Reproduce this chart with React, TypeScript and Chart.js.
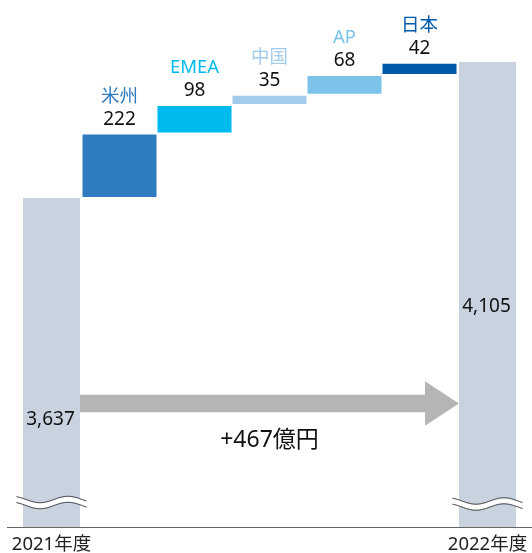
import React, { useEffect, useRef } from 'react';
import { Chart, registerables } from 'chart.js';

Chart.register(...registerables);

// ---- data ----
const categories = ['2021年度', '米州', 'EMEA', '中国', 'AP', '日本', '2022年度'];
const regionNames = ['米州', 'EMEA', '中国', 'AP', '日本'];
const regionIncreases = [222, 98, 35, 68, 42];
const startTotal = 3637;
const endTotal = 4105;
const totalChangeLabel = '+467億円';
const yAxisMin = 2505;
const yAxisMax = 4318;

// ---- styles ----
const regionColors = ['#2e7bc0', '#00b9ef', '#a3cbeb', '#7bc3e9', '#005aab'];
const totalColor = '#c8d3df';
const arrowColor = '#b4b5b5';
const textColor = '#111111';
const FONT = '"Noto Sans", "Noto Sans CJK JP", sans-serif';

const floatingData: number[][] = (() => {
  const out: number[][] = [[yAxisMin, startTotal]];
  let running = startTotal;
  regionIncreases.forEach((v) => {
    out.push([running, running + v]);
    running += v;
  });
  out.push([yAxisMin, endTotal]);
  return out;
})();

const barColors = [totalColor, ...regionColors, totalColor];
const totalLeftBorder = { left: 16, right: 2, top: 0, bottom: 0 };
const totalRightBorder = { left: 2, right: 16, top: 0, bottom: 0 };
const regionBorder = { left: 0.5, right: 0.5, top: 1, bottom: 1 };
const borderWidths = [totalLeftBorder, regionBorder, regionBorder, regionBorder, regionBorder, regionBorder, totalRightBorder];
const borderColors = ['rgba(255,255,255,0)', '#ffffff', '#ffffff', '#ffffff', '#ffffff', '#ffffff', 'rgba(255,255,255,0)'];

const fmt = (v: number) => v.toLocaleString('en-US');

function visibleCenter(bar: any, i: number) {
  const b = borderWidths[i];
  return bar.x + (b.left - b.right) / 2;
}
function visibleHalfWidth(bar: any, i: number) {
  const b = borderWidths[i];
  return (bar.width - b.left - b.right) / 2;
}

function drawBreak(ctx: CanvasRenderingContext2D, cx: number, yc: number) {
  const x0 = cx - 35;
  const x1 = cx + 35;
  const A = 3.2;
  const lambda = 56;
  const half = 3;
  const yAt = (x: number) => yc - A * Math.cos((2 * Math.PI * (x - (cx + 16.5))) / lambda);
  ctx.save();
  ctx.beginPath();
  for (let x = x0; x <= x1; x += 1) {
    const y = yAt(x) - half;
    if (x === x0) ctx.moveTo(x, y);
    else ctx.lineTo(x, y);
  }
  for (let x = x1; x >= x0; x -= 1) ctx.lineTo(x, yAt(x) + half);
  ctx.closePath();
  ctx.fillStyle = '#ffffff';
  ctx.fill();
  ctx.strokeStyle = '#2a2a2a';
  ctx.lineWidth = 1;
  [-half, half].forEach((off) => {
    ctx.beginPath();
    for (let x = x0; x <= x1; x += 1) {
      const y = yAt(x) + off;
      if (x === x0) ctx.moveTo(x, y);
      else ctx.lineTo(x, y);
    }
    ctx.stroke();
  });
  ctx.restore();
}

const annotationsPlugin = {
  id: 'waterfallAnnotations',
  afterDatasetsDraw(chart: any) {
    const ctx: CanvasRenderingContext2D = chart.ctx;
    const meta = chart.getDatasetMeta(0);
    const bars = meta.data;
    const area = chart.chartArea;
    const last = bars.length - 1;
    ctx.save();
    ctx.textAlign = 'center';
    ctx.textBaseline = 'middle';

    // region labels
    regionNames.forEach((name, k) => {
      const i = k + 1;
      const bar = bars[i];
      const cx = visibleCenter(bar, i);
      ctx.font = `18.5px ${FONT}`;
      ctx.fillStyle = regionColors[k];
      ctx.fillText(name, cx, bar.y - 37);
      ctx.font = `19px ${FONT}`;
      ctx.fillStyle = textColor;
      ctx.fillText(fmt(regionIncreases[k]), cx, bar.y - 14);
    });

    // totals inside bars
    const c0 = visibleCenter(bars[0], 0);
    const c6 = visibleCenter(bars[last], last);
    ctx.font = `19px ${FONT}`;
    ctx.fillStyle = textColor;
    ctx.fillText(fmt(startTotal), c0 - 1, bars[0].base - 107);
    ctx.fillText(fmt(endTotal), c6 - 1, bars[last].base - 220);

    // breaks
    drawBreak(ctx, c0, area.bottom - 24.5);
    drawBreak(ctx, c6, area.bottom - 23);

    // arrow
    const ax0 = c0 + visibleHalfWidth(bars[0], 0);
    const tip = c6 - visibleHalfWidth(bars[last], last);
    const ay = area.bottom - 123.5;
    const headX = tip - 34;
    ctx.fillStyle = arrowColor;
    ctx.beginPath();
    ctx.moveTo(ax0, ay - 8.8);
    ctx.lineTo(headX, ay - 8.8);
    ctx.lineTo(headX, ay - 22.2);
    ctx.lineTo(tip, ay);
    ctx.lineTo(headX, ay + 22.2);
    ctx.lineTo(headX, ay + 8.8);
    ctx.lineTo(ax0, ay + 8.8);
    ctx.closePath();
    ctx.fill();

    ctx.font = `23px ${FONT}`;
    ctx.fillStyle = textColor;
    ctx.fillText(totalChangeLabel, (ax0 + tip) / 2, area.bottom - 87);

    // category labels for totals under the axis
    ctx.font = `18.5px ${FONT}`;
    ctx.fillStyle = '#222222';
    ctx.fillText(categories[0], c0, area.bottom + 18);
    ctx.fillText(categories[last], c6, area.bottom + 18);
    ctx.restore();
  },
};

export default function App() {
  const ref = useRef<HTMLCanvasElement>(null);
  useEffect(() => {
    if (!ref.current) return;
    const chart = new Chart(ref.current, {
      type: 'bar',
      data: {
        labels: categories,
        datasets: [
          {
            data: floatingData as any,
            backgroundColor: barColors,
            borderColor: borderColors,
            borderWidth: borderWidths as any,
            borderSkipped: false,
            inflateAmount: 0,
            barPercentage: 1,
            categoryPercentage: 1,
          } as any,
        ],
      },
      options: {
        responsive: false,
        maintainAspectRatio: false,
        animation: false,
        layout: { padding: { left: 7, right: 0, top: 0, bottom: 26 } },
        plugins: { legend: { display: false }, tooltip: { enabled: false } },
        scales: {
          x: {
            display: true,
            grid: { display: false, drawTicks: false },
            ticks: { display: false },
            border: { display: true, color: '#666666', width: 1 },
          },
          y: { display: false, min: yAxisMin, max: yAxisMax },
        },
      },
      plugins: [annotationsPlugin],
    });
    return () => chart.destroy();
  }, []);
  return (
    <div style={{ position: 'absolute', left: 0, top: 0, width: 532, height: 553, background: '#fff' }}>
      <canvas ref={ref} width={532} height={553} style={{ display: 'block', width: 532, height: 553 }} />
    </div>
  );
}
